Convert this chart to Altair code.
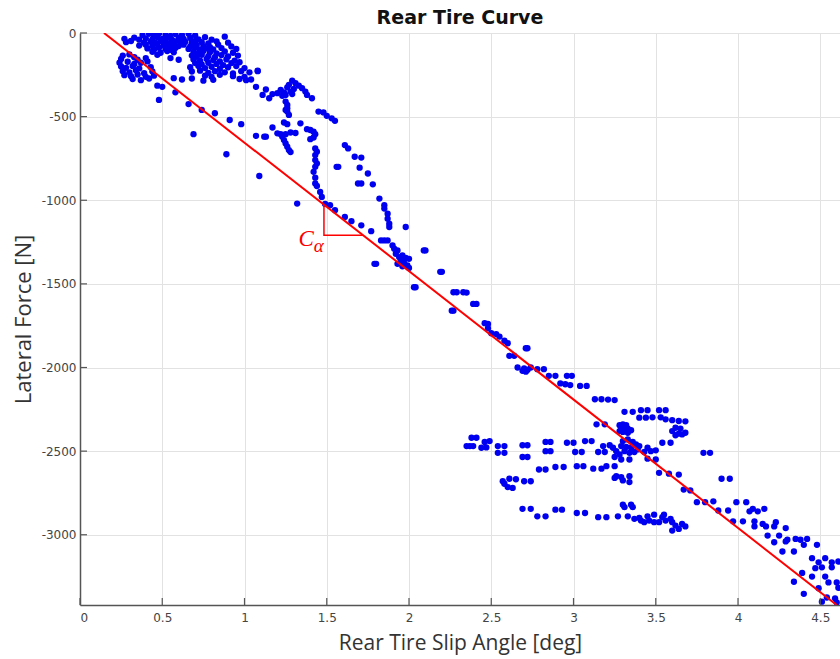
import altair as alt
import pandas as pd

# ---------------- data ----------------
# low slip cluster, top band
top_x = [0.38,0.42,0.45,0.48,0.52,0.55,0.58,0.62,0.66,0.70,
         0.27,0.33,0.36,0.40,0.44,0.47,0.50,0.53,0.56,0.60,0.63,0.67,0.72,0.76,0.80,0.88,
         0.28,0.31,0.39,0.43,0.46,0.49,0.52,0.55,0.58,0.61,0.64,0.68,0.70,0.74,0.78,0.83,0.90,
         0.36,0.40,0.44,0.47,0.51,0.54,0.57,0.60,0.63,0.67,0.71,0.75,0.79,0.84,0.92,
         0.41,0.45,0.48,0.52,0.55,0.58,0.66,0.70,0.73,0.77,0.81,0.86,0.95,
         0.44,0.49,0.53,0.57,0.69,0.72,0.75,0.79,0.83,0.88,0.93,
         0.55,0.60,
         0.68,0.71,0.74,0.78,0.82,0.86,0.90,0.96,
         0.69,0.73,0.77,0.81,0.85,0.89,0.94,
         0.70,0.74,0.78,0.83,0.87,0.92,0.97,
         0.67,0.72,0.76,0.80,0.85,0.90,0.95,1.00,
         0.68,0.73,0.78,0.82,0.88,0.93,0.98,1.03,1.08,
         0.76,0.80,0.85,0.93,1.00,
         0.57,0.62,0.68,0.75,0.81,0.97,1.01,1.04]
top_y = [-12,-5,-15,-3,-10,-18,-6,-12,-4,-14,
         -35,-28,-40,-32,-38,-25,-35,-30,-42,-28,-36,-30,-38,-25,-40,-22,
         -55,-48,-58,-52,-60,-50,-56,-62,-50,-58,-52,-60,-48,-55,-62,-50,-58,
         -75,-70,-78,-68,-75,-82,-72,-78,-70,-80,-72,-78,-85,-70,-80,
         -92,-98,-88,-95,-100,-90,-95,-88,-100,-92,-98,-90,-95,
         -112,-118,-108,-115,-112,-120,-108,-115,-122,-110,-118,
         -150,-160,
         -135,-142,-130,-138,-145,-132,-140,-135,
         -158,-165,-155,-162,-170,-158,-165,
         -180,-188,-178,-185,-192,-180,-175,
         -205,-198,-210,-202,-215,-205,-198,-210,
         -230,-225,-238,-228,-235,-242,-228,-235,-225,
         -255,-262,-250,-258,-262,
         -270,-278,-272,-285,-280,-275,-282,-278]

# low slip cluster, left lobe
left_x = [0.26,0.30,0.33,0.47,0.25,0.35,0.40,
          0.24,0.29,0.33,0.37,0.41,
          0.25,0.28,0.32,0.36,0.43,
          0.26,0.30,0.34,0.39,0.44,
          0.27,0.31,0.35,0.40,0.45,
          0.32,0.37,0.42]
left_y = [-135,-128,-145,-130,-155,-160,-150,
          -178,-172,-185,-178,-170,
          -200,-208,-198,-212,-205,
          -228,-235,-222,-240,-230,
          -252,-258,-248,-262,-255,
          -275,-282,-272]

# scattered points, 0.45 - 1.35 deg
scat_x = [0.47,0.50,0.48,0.58,0.66,0.69,0.74,0.82,0.89,0.91,0.98,1.07,1.13,1.09,1.32,
          1.08,1.07,1.13,1.11,1.15]
scat_y = [-315,-322,-400,-355,-425,-605,-460,-480,-725,-520,-545,-615,-620,-855,-1020,
          -228,-322,-338,-370,-390]

# mid cluster, 1.1 - 1.65 deg
mid_x = [1.29,1.31,1.27,1.26,1.30,1.33,1.35,1.37,1.38,1.41,
         1.22,1.24,1.20,1.25,1.17,1.28,1.29,1.23,
         1.25,1.26,1.26,1.26,1.25,1.27,
         1.45,1.48,1.50,1.53,1.55,
         1.24,1.26,1.34,1.17,
         1.20,1.22,1.25,1.28,1.31,
         1.38,1.40,1.42,1.43,
         1.12,1.23,1.24,1.25,1.26,1.27,1.28,
         1.40,1.42,1.43,1.44,1.43,
         1.61,1.63,
         1.43,1.44,1.43,1.42,1.43,1.43,1.44,1.46,1.47]
mid_y = [-285,-300,-310,-325,-335,-315,-330,-350,-370,-390,
         -340,-355,-360,-370,-365,-350,-365,-375,
         -410,-430,-450,-470,-460,-490,
         -470,-475,-495,-510,-525,
         -535,-545,-540,-565,
         -600,-605,-605,-595,-598,
         -575,-580,-590,-605,
         -620,-620,-640,-660,-680,-700,-712,
         -635,-625,-690,-710,-730,
         -670,-690,
         -760,-780,-800,-830,-865,-900,-915,-950,-980]

# points from 1.5 to 2.45 deg
band_x = [1.49,1.52,1.55,1.61,1.65,1.71,1.77,
          1.67,1.71,1.56,1.57,1.70,1.75,1.69,1.71,1.78,1.82,1.85,1.85,1.87,1.87,1.88,1.88,
          1.83,1.85,1.87,1.98,1.79,1.80,2.03,2.04,
          1.90,1.91,1.93,1.92,1.94,1.96,1.98,1.95,1.97,1.99,2.00,1.96,1.93,2.00,
          2.09,2.10,2.19,2.20,2.27,2.29,2.33,2.35,2.39,2.41,2.26,2.27]
band_y = [-1022,-1030,-1060,-1100,-1125,-1150,-1185,
          -740,-745,-800,-800,-805,-840,-900,-900,-905,-990,-1030,-1050,-1080,-1110,-1140,-1160,
          -1240,-1240,-1240,-1160,-1380,-1380,-1520,-1520,
          -1270,-1290,-1300,-1320,-1340,-1330,-1345,-1360,-1375,-1390,-1405,-1395,-1380,-1350,
          -1300,-1300,-1428,-1428,-1550,-1550,-1550,-1552,-1620,-1620,-1660,-1660]

# points along the line, 2.45 - 3.85 deg
upper_x = [2.46,2.48,2.48,2.50,2.53,2.55,2.58,2.60,2.71,2.72,2.61,2.64,
           2.66,2.70,2.72,2.74,2.78,2.82,2.69,2.71,
           2.85,2.89,2.96,2.99,2.92,2.95,2.98,3.04,3.08,
           3.13,3.17,3.21,3.25,3.31,3.36,3.41,3.45,3.52,3.56,
           3.40,3.44,3.48,3.53,3.56,3.60,3.64,3.68,
           3.14,3.19,
           3.28,3.30,3.32,3.29,3.31,3.33,3.30,3.33,3.28,3.35,
           3.62,3.65,3.60,3.64,3.68,3.62,3.66,
           3.54,3.59,3.79,3.83]
upper_y = [-1735,-1740,-1765,-1795,-1800,-1815,-1840,-1855,-1885,-1885,-1930,-1930,
           -2000,-2005,-2015,-2000,-2010,-2010,-2020,-2025,
           -2050,-2050,-2050,-2050,-2095,-2100,-2105,-2110,-2110,
           -2190,-2190,-2192,-2195,-2265,-2265,-2255,-2255,-2255,-2255,
           -2300,-2300,-2298,-2298,-2310,-2315,-2320,-2322,
           -2340,-2340,
           -2345,-2340,-2345,-2365,-2370,-2365,-2385,-2390,-2380,-2375,
           -2360,-2365,-2380,-2395,-2390,-2405,-2400,
           -2450,-2450,-2510,-2510]

# horizontal bands, 2.35 - 3.85 deg
bands_x = [2.38,2.41,2.35,2.37,2.39,2.44,2.47,2.49,2.46,
           2.54,2.58,2.54,2.58,2.69,2.72,2.69,2.72,
           2.83,2.86,2.83,2.86,2.96,3.00,3.01,3.05,
           3.07,3.11,3.15,3.19,3.18,3.22,
           3.24,3.26,3.25,3.29,3.34,
           3.30,3.33,3.36,3.38,3.29,3.32,3.35,3.39,3.31,3.34,3.37,3.28,3.40,
           3.45,3.47,3.50,3.45,3.50,3.43,
           3.52,3.58,3.64,3.67,3.71,3.75,3.80,3.85,
           2.79,2.83,2.89,2.94,3.02,3.06,3.12,3.17,3.20,3.25,
           3.25,3.26,3.29,3.30,3.34,3.34,
           2.57,2.58,2.60,2.61,2.63,2.65,2.70,2.74]
bands_y = [-2420,-2420,-2470,-2470,-2470,-2480,-2478,-2440,-2445,
           -2470,-2470,-2510,-2510,-2465,-2465,-2535,-2535,
           -2445,-2445,-2500,-2500,-2450,-2450,-2505,-2505,
           -2440,-2440,-2505,-2505,-2470,-2465,
           -2480,-2500,-2535,-2550,-2550,
           -2440,-2430,-2445,-2460,-2470,-2475,-2480,-2490,-2500,-2510,-2505,-2520,-2470,
           -2480,-2500,-2495,-2545,-2550,-2505,
           -2630,-2635,-2640,-2730,-2735,-2805,-2805,-2800,
           -2610,-2610,-2595,-2595,-2590,-2590,-2605,-2605,-2590,-2590,
           -2660,-2650,-2655,-2675,-2685,-2650,
           -2680,-2695,-2715,-2665,-2720,-2668,-2680,-2680]

# lowest band, 2.7 - 3.7 deg
low_x = [2.69,2.74,2.78,2.83,2.89,2.93,3.02,3.07,3.15,3.20,3.27,3.33,
         3.30,3.31,3.35,3.36,
         3.37,3.41,3.43,3.46,3.49,3.49,3.52,3.54,3.55,3.56,3.59,3.60,3.62,3.66,3.68,3.64,3.60,3.45,3.40]
low_y = [-2845,-2845,-2890,-2890,-2850,-2850,-2870,-2870,-2895,-2895,-2890,-2890,
         -2820,-2835,-2820,-2835,
         -2905,-2915,-2925,-2915,-2880,-2925,-2925,-2895,-2880,-2915,-2905,-2925,-2945,-2935,-2950,-2965,-2975,-2890,-2900]

# high slip tail, 3.85 - 4.62 deg
tail_x = [3.90,3.95,3.88,3.94,3.99,4.05,3.97,4.03,
          4.07,4.09,4.12,4.16,
          4.10,4.10,4.15,4.17,4.22,4.23,4.29,
          4.18,4.25,4.22,4.29,4.30,4.35,4.38,4.42,
          4.27,4.34,4.40,4.48,
          4.39,4.34,4.40,
          4.45,4.49,4.53,4.57,4.61,4.47,4.51,4.57,4.45,4.53,4.55,4.49,4.60,4.61,
          4.51,4.54,4.59,4.60]
tail_y = [-2665,-2665,-2855,-2855,-2805,-2805,-2920,-2920,
          -2860,-2845,-2860,-2845,
          -2920,-2950,-2935,-2950,-2950,-2925,-2960,
          -3005,-3005,-3045,-3040,-3030,-3025,-3030,-3025,
          -3100,-3100,-3060,-3060,
          -3228,-3281,-3353,
          -3140,-3165,-3140,-3165,-3160,-3200,-3195,-3195,-3250,-3250,-3285,-3320,-3285,-3317,
          -3400,-3375,-3380,-3405]

# cornering-stiffness line and its slope triangle
fit_x = [0.146, 4.60]
fit_y = [0, -3420]
tri_x = [1.483, 1.483, 1.72]
tri_y = [-1025, -1210, -1210]
tri_order = [0, 1, 2]

x_ticks = [0, 0.5, 1, 1.5, 2, 2.5, 3, 3.5, 4, 4.5]
y_ticks = [0, -500, -1000, -1500, -2000, -2500, -3000]

# ---------------- tables ----------------
all_x = top_x + left_x + scat_x + mid_x + band_x + upper_x + bands_x + low_x + tail_x
all_y = top_y + left_y + scat_y + mid_y + band_y + upper_y + bands_y + low_y + tail_y
pts = pd.DataFrame({"slip": all_x, "force": all_y})
fit = pd.DataFrame({"slip": fit_x, "force": fit_y})
tri = pd.DataFrame({"slip": tri_x, "force": tri_y, "o": tri_order})
lab_c = pd.DataFrame({"slip": [1.375], "force": [-1231], "t": ["C"]})
lab_a = pd.DataFrame({"slip": [1.452], "force": [-1275], "t": ["α"]})
xt = pd.DataFrame({"v": x_ticks})
yt = pd.DataFrame({"v": y_ticks})

W, H = 760, 572
xs = alt.Scale(domain=[0, 4.62], nice=False, zero=False)
ys = alt.Scale(domain=[-3420, 0], nice=False, zero=False)

GRID = "#e2e2e2"
DOM = "#555555"

xaxis = alt.Axis(values=x_ticks, title="Rear Tire Slip Angle [deg]",
                 labelExpr="'' + datum.value", tickSize=0, labelPadding=7,
                 grid=True, gridColor=GRID, domainColor=DOM, domainWidth=1.5,
                 labelFont="DejaVu Sans", labelFontSize=12, labelColor="#444444",
                 titleFont="Open Sans", titleFontSize=21, titleFontWeight="normal",
                 titleColor="#333333", titlePadding=9)
yaxis = alt.Axis(values=y_ticks, title="Lateral Force [N]",
                 labelExpr="'' + datum.value", tickSize=0, labelPadding=4,
                 grid=True, gridColor=GRID, domainColor=DOM, domainWidth=1.5,
                 labelFont="DejaVu Sans", labelFontSize=12, labelColor="#444444",
                 titleFont="Open Sans", titleFontSize=22, titleFontWeight="normal",
                 titleColor="#333333", titlePadding=6)

scatter = alt.Chart(pts).mark_circle(size=40, color="#0000f0", opacity=1, clip=True).encode(
    x=alt.X("slip:Q", scale=xs, axis=xaxis),
    y=alt.Y("force:Q", scale=ys, axis=yaxis),
)
line = alt.Chart(fit).mark_line(color="#ff0000", strokeWidth=2, clip=True).encode(
    x=alt.X("slip:Q", scale=xs), y=alt.Y("force:Q", scale=ys))
triangle = alt.Chart(tri).mark_line(color="#ff0000", strokeWidth=1.5).encode(
    x=alt.X("slip:Q", scale=xs), y=alt.Y("force:Q", scale=ys), order="o:Q")
tc = alt.Chart(lab_c).mark_text(font="Liberation Serif", fontStyle="italic", fontSize=23,
                                color="#ff0000", align="center", baseline="middle").encode(
    x=alt.X("slip:Q", scale=xs), y=alt.Y("force:Q", scale=ys), text="t:N")
ta = alt.Chart(lab_a).mark_text(font="Liberation Serif", fontStyle="italic", fontSize=19,
                                color="#ff0000", align="center", baseline="middle").encode(
    x=alt.X("slip:Q", scale=xs), y=alt.Y("force:Q", scale=ys), text="t:N")
xticks = alt.Chart(xt).mark_rule(color=DOM, strokeWidth=1.2).encode(
    x=alt.X("v:Q", scale=xs), y=alt.value(H), y2=alt.value(H - 7))
yticks = alt.Chart(yt).mark_rule(color=DOM, strokeWidth=1.2).encode(
    y=alt.Y("v:Q", scale=ys), x=alt.value(0), x2=alt.value(7))

chart = alt.layer(scatter, line, triangle, tc, ta, xticks, yticks).properties(
    width=W, height=H,
    title=alt.TitleParams("Rear Tire Curve", font="DejaVu Sans", fontSize=19,
                          fontWeight="bold", anchor="middle", offset=7, dy=8,
                          color="#111111"),
    autosize=alt.AutoSizeParams(type="none"),
    padding={"left": 80, "top": 33, "right": 0, "bottom": 54},
).configure_view(stroke=None).configure(background="white")

chart.save("out.html", embed_options={"renderer": "svg", "actions": False})
